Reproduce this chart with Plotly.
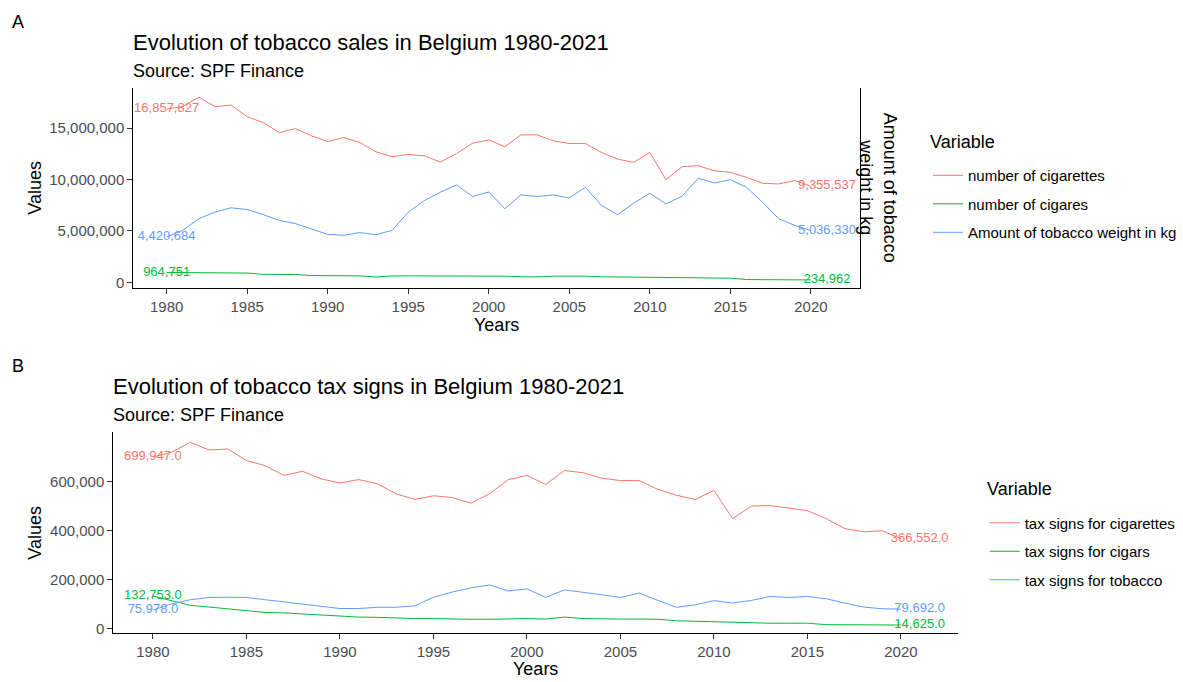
import plotly.graph_objects as go

W, H = 1183, 682
FONT = "Liberation Sans, Arial, sans-serif"

years = list(range(1980, 2021))

# Panel A: sales
cigarettes = [16857827, 17100000, 18020000, 17090000, 17250000, 16120000, 15540000,
              14570000, 14960000, 14250000, 13700000, 14090000, 13600000, 12700000,
              12220000, 12440000, 12310000, 11700000, 12540000, 13540000, 13860000,
              13190000, 14350000, 14350000, 13770000, 13510000, 13510000, 12640000,
              11990000, 11670000, 12640000, 9990000, 11250000, 11350000, 10860000,
              10700000, 10220000, 9640000, 9570000, 9900000, 9355537]
cigares = [964751, 940000, 930000, 920000, 920000, 900000, 780000, 770000, 760000,
           660000, 650000, 640000, 630000, 520000, 620000, 630000, 630000, 630000,
           630000, 630000, 620000, 600000, 540000, 530000, 600000, 610000, 600000,
           540000, 520000, 450000, 430000, 430000, 420000, 420000, 420000, 410000,
           270000, 260000, 250000, 240000, 234962]
tobacco_kg = [4420684, 5060000, 6190000, 6830000, 7250000, 7090000, 6580000, 6030000,
              5710000, 5160000, 4670000, 4580000, 4840000, 4640000, 5060000, 6830000,
              7960000, 8770000, 9480000, 8350000, 8800000, 7160000, 8510000, 8350000,
              8510000, 8220000, 9250000, 7480000, 6580000, 7700000, 8670000, 7640000,
              8380000, 10120000, 9670000, 9990000, 9250000, 7800000, 6190000, 5540000,
              5036330]

# Panel B: tax signs
tax_cigarettes = [699947, 720000, 760000, 729000, 733000, 686000, 665000, 625000,
                  642000, 611000, 594000, 608000, 591000, 550000, 527000, 542000,
                  535000, 512000, 550000, 608000, 625000, 588000, 645000, 636000,
                  614000, 604000, 604000, 568000, 544000, 527000, 564000, 449000,
                  500000, 502000, 492000, 481000, 449000, 408000, 395000, 399000,
                  366552]
tax_cigars = [132753, 115000, 95000, 88000, 81000, 74000, 66000, 64000, 60000, 54000,
              50000, 47000, 46000, 42000, 41000, 41000, 38000, 38000, 38000, 41000,
              41000, 39000, 47000, 41000, 39000, 39000, 39000, 38000, 32000, 30000,
              28000, 23000, 22000, 22000, 22000, 22000, 16000, 16000, 16000, 16000,
              14625]
tax_tobacco = [75978, 101000, 118000, 127000, 128000, 127000, 118000, 108000, 100000,
               91000, 82000, 82000, 87000, 87000, 93000, 128000, 149000, 166000,
               178000, 154000, 162000, 127000, 158000, 149000, 138000, 127000, 145000,
               115000, 87000, 97000, 114000, 104000, 115000, 131000, 127000, 131000,
               122000, 104000, 88000, 81000, 79692]

RED, GREEN, BLUE = "#F8766D", "#00BA38", "#619CFF"

sales_series = [("number of cigarettes", cigarettes, RED),
                ("number of cigares", cigares, GREEN),
                ("Amount of tobacco weight in kg", tobacco_kg, BLUE)]
tax_series = [("tax signs for cigarettes", tax_cigarettes, RED),
              ("tax signs for cigars", tax_cigars, GREEN),
              ("tax signs for tobacco", tax_tobacco, BLUE)]

label_years = [1980, 2021]


def px_x(p):
    return p / W


def px_y(p):
    return 1 - p / H


fig = go.Figure()

for name, vals, col in sales_series:
    fig.add_trace(go.Scatter(x=years, y=vals, mode="lines", name=name,
                             line=dict(color=col, width=1),
                             legend="legend", legendgroup=name,
                             xaxis="x", yaxis="y"))
for name, vals, col in sales_series:
    fig.add_trace(go.Scatter(x=label_years, y=[vals[0], vals[-1]], mode="text",
                             text=[f"{vals[0]:,}", f"{vals[-1]:,}"],
                             textfont=dict(color=col, size=13, family=FONT),
                             showlegend=False, hoverinfo="skip",
                             xaxis="x", yaxis="y"))

for name, vals, col in tax_series:
    fig.add_trace(go.Scatter(x=years, y=vals, mode="lines", name=name,
                             line=dict(color=col, width=1),
                             legend="legend2", legendgroup=name,
                             xaxis="x2", yaxis="y2"))
for name, vals, col in tax_series:
    fig.add_trace(go.Scatter(x=label_years, y=[vals[0], vals[-1]], mode="text",
                             text=[f"{vals[0]:,.1f}", f"{vals[-1]:,.1f}"],
                             textfont=dict(color=col, size=13, family=FONT),
                             showlegend=False, hoverinfo="skip",
                             xaxis="x2", yaxis="y2"))

axis_common = dict(showline=True, linecolor="black", linewidth=1,
                   showgrid=False, zeroline=False, ticks="outside", ticklen=5,
                   tickcolor="#333333", tickwidth=1,
                   tickfont=dict(size=15, color="#4D4D4D", family=FONT))

# panel pixel boxes: (left, right, top, bottom)
A = (133.3, 860.0, 88.3, 289.3)
B = (113.3, 958.0, 435.0, 636.7)

legend_common = dict(xanchor="left", yanchor="top",
                     font=dict(size=15, family=FONT, color="black"),
                     tracegroupgap=6, bgcolor="rgba(0,0,0,0)")

fig.update_layout(
    width=W, height=H,
    margin=dict(l=0, r=0, t=0, b=0),
    paper_bgcolor="white", plot_bgcolor="white",
    font=dict(family=FONT, color="black"),
    xaxis=dict(domain=[px_x(A[0]), px_x(A[1])], range=[1977.93, 2023.05],
               tickvals=[1980, 1985, 1990, 1995, 2000, 2005, 2010, 2015, 2020],
               anchor="y", **axis_common),
    yaxis=dict(domain=[px_y(A[3]), px_y(A[2])], range=[-512000, 18930000],
               tickvals=[0, 5000000, 10000000, 15000000], tickformat=",",
               anchor="x", mirror=True, **axis_common),
    xaxis2=dict(domain=[px_x(B[0]), px_x(B[1])], range=[1977.88, 2023.05],
                tickvals=[1980, 1985, 1990, 1995, 2000, 2005, 2010, 2015, 2020],
                anchor="y2", **axis_common),
    yaxis2=dict(domain=[px_y(B[3]), px_y(B[2])], range=[-17800, 800400],
                tickvals=[0, 200000, 400000, 600000], tickformat=",",
                anchor="x2", **axis_common),
    legend=dict(x=px_x(928), y=px_y(160), **legend_common),
    legend2=dict(x=px_x(984.7), y=px_y(509.5), **legend_common),
    showlegend=True,
)


def ann(text, x, y, size, xanchor="center", angle=0, color="black"):
    fig.add_annotation(text=text, x=px_x(x), y=px_y(y), xref="paper", yref="paper",
                       xanchor=xanchor, yanchor="middle", showarrow=False,
                       textangle=angle, font=dict(size=size, color=color, family=FONT))


# panel tags
ann("A", 10, 22, 18, xanchor="left")
ann("B", 10, 368, 18, xanchor="left")

# titles and subtitles
ann("Evolution of tobacco sales in Belgium 1980-2021", A[0] - 2, 42.7, 22, xanchor="left")
ann("Source: SPF Finance", A[0] - 2, 71, 18, xanchor="left")
ann("Evolution of tobacco tax signs in Belgium 1980-2021", B[0] - 2, 388.3, 22, xanchor="left")
ann("Source: SPF Finance", B[0] - 2, 417.7, 18, xanchor="left")

# legend headings
ann("Variable", 928, 143, 18, xanchor="left")
ann("Variable", 985, 491.7, 18, xanchor="left")

# axis titles
ann("Years", (A[0] + A[1]) / 2, 327, 18)
ann("Values", 35, (A[2] + A[3]) / 2, 18, angle=-90)
ann("Amount of tobacco<br>weight in kg", 878, (A[2] + A[3]) / 2, 18, angle=90)
ann("Years", (B[0] + B[1]) / 2, 673, 18)
ann("Values", 35, (B[2] + B[3]) / 2, 18, angle=-90)

fig.write_html("out.html")
